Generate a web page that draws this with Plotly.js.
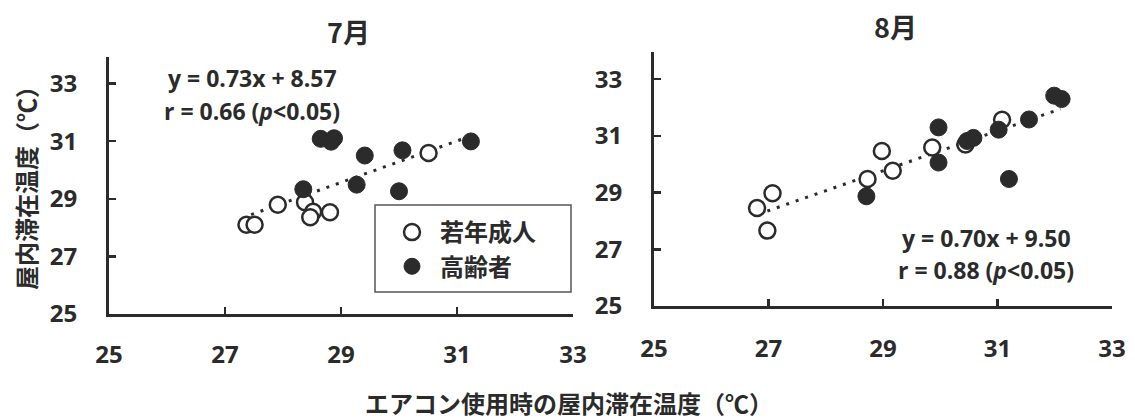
<!DOCTYPE html>
<html>
<head>
<meta charset="utf-8">
<script src="https://cdn.plot.ly/plotly-3.0.1.min.js"></script>
<style>html,body{margin:0;padding:0;background:#fff;}#chart{width:1135px;height:420px;}</style>
</head>
<body>
<div id="chart"></div>
<script>
// ---- data ----
var panelTitles = ["7月", "8月"];
var seriesNames = ["若年成人", "高齢者"];
var xTitle = "エアコン使用時の屋内滞在温度（℃）";
var yTitle = "屋内滞在温度（℃）";
var tickVals = [25, 27, 29, 31, 33];

var julYoungX = [27.37, 27.51, 27.91, 28.38, 28.52, 28.47, 28.81, 30.51];
var julYoungY = [28.10, 28.10, 28.79, 28.88, 28.55, 28.36, 28.53, 30.59];
var julOldX = [28.35, 28.65, 28.88, 28.83, 29.41, 29.27, 30.06, 30.00, 31.24];
var julOldY = [29.33, 31.08, 31.10, 30.98, 30.50, 29.49, 30.68, 29.26, 30.99];
var julTrendX = [27.45, 31.20];
var julTrendY = [28.45, 31.15];
var julEq = ["y = 0.73x + 8.57", "r = 0.66 (<i>p</i>&lt;0.05)"];

var augYoungX = [26.80, 27.07, 26.98, 28.73, 28.98, 29.17, 29.86, 30.44, 31.08];
var augYoungY = [28.46, 28.98, 27.66, 29.48, 30.47, 29.77, 30.59, 30.70, 31.57];
var augOldX = [28.71, 29.97, 29.97, 30.47, 30.58, 31.02, 31.20, 31.55, 31.99, 32.12];
var augOldY = [28.87, 31.30, 30.06, 30.82, 30.93, 31.22, 29.48, 31.58, 32.42, 32.30];
var augTrendX = [26.98, 32.10];
var augTrendY = [28.35, 31.95];
var augEq = ["y = 0.70x + 9.50", "r = 0.88 (<i>p</i>&lt;0.05)"];

// ---- styles ----
var W = 1135, H = 420;
var ink = "#2b2b2b";
var numFont = {family: "Open Sans, Liberation Sans, sans-serif", size: 24, color: ink, weight: 700};
var legFont = {family: "Noto Sans CJK JP, sans-serif", size: 24, color: ink, weight: 700};
var axTitleFont = {family: "Noto Sans CJK JP, sans-serif", size: 24, color: ink, weight: 700};
var eqFont = {family: numFont.family, size: 23, color: ink, weight: 700};
function px(x){ return x / W; }
function py(y){ return 1 - y / H; }

var openMarker = {symbol: "circle", size: 16, color: "#ffffff", line: {color: ink, width: 2.5}};
var fillMarker = {symbol: "circle", size: 17, color: ink, line: {color: ink, width: 1}};
var trendLine = {color: ink, width: 3, dash: "3px,7px"};

var traces = [
  {x: julTrendX, y: julTrendY, mode: "lines", line: trendLine, showlegend: false, xaxis: "x", yaxis: "y", hoverinfo: "skip"},
  {x: augTrendX, y: augTrendY, mode: "lines", line: trendLine, showlegend: false, xaxis: "x2", yaxis: "y2", hoverinfo: "skip"},
  {x: julYoungX, y: julYoungY, mode: "markers", name: seriesNames[0], marker: openMarker, xaxis: "x", yaxis: "y"},
  {x: julOldX, y: julOldY, mode: "markers", name: seriesNames[1], marker: fillMarker, xaxis: "x", yaxis: "y"},
  {x: augYoungX, y: augYoungY, mode: "markers", name: seriesNames[0], marker: openMarker, showlegend: false, xaxis: "x2", yaxis: "y2"},
  {x: augOldX, y: augOldY, mode: "markers", name: seriesNames[1], marker: fillMarker, showlegend: false, xaxis: "x2", yaxis: "y2"}
];

function axisBase(extra){
  var a = {
    showgrid: false, zeroline: false, showline: true, linecolor: ink, linewidth: 3,
    ticks: "inside", ticklen: 7, tickwidth: 2.5, tickcolor: ink,
    tickvals: tickVals, ticktext: tickVals.map(String),
    tickfont: numFont, ticklabelstandoff: 24, fixedrange: true
  };
  for (var k in extra) a[k] = extra[k];
  return a;
}

var layout = {
  width: W, height: H,
  margin: {l: 0, r: 0, t: 0, b: 0},
  paper_bgcolor: "#ffffff", plot_bgcolor: "rgba(0,0,0,0)",
  xaxis: axisBase({domain: [px(109), px(573)], range: [25, 33], anchor: "y", ticklabelstandoff: 17}),
  yaxis: axisBase({domain: [py(314), py(57)], range: [25, 33.92], anchor: "x"}),
  xaxis2: axisBase({domain: [px(654), px(1112)], range: [25, 33], anchor: "y2", ticklabelstandoff: 19}),
  yaxis2: axisBase({domain: [py(306), py(52)], range: [25, 33.96], anchor: "x2"}),
  showlegend: true,
  legend: {
    x: px(376), y: py(210), xanchor: "left", yanchor: "top",
    bgcolor: "rgba(0,0,0,0)", borderwidth: 0,
    font: legFont, itemwidth: 46, indentation: 8, tracegroupgap: 0
  },
  shapes: [
    {type: "rect", xref: "paper", yref: "paper", x0: px(375), x1: px(571), y0: py(292), y1: py(205),
     line: {color: "#555", width: 1.5}, fillcolor: "rgba(0,0,0,0)"}
  ],
  annotations: [
    {text: panelTitles[0], x: px(348), y: py(32), xref: "paper", yref: "paper", showarrow: false, xanchor: "center", yanchor: "middle",
     font: {family: legFont.family, size: 27, color: ink, weight: 700}},
    {text: panelTitles[1], x: px(895), y: py(27), xref: "paper", yref: "paper", showarrow: false, xanchor: "center", yanchor: "middle",
     font: {family: legFont.family, size: 27, color: ink, weight: 700}},
    {text: yTitle, x: px(25), y: py(182), xref: "paper", yref: "paper", showarrow: false, textangle: -90, xanchor: "center", yanchor: "middle",
     font: axTitleFont},
    {text: xTitle, x: px(569), y: py(402), xref: "paper", yref: "paper", showarrow: false, xanchor: "center", yanchor: "middle",
     font: axTitleFont},
    {text: julEq[0], x: px(252), y: py(78), xref: "paper", yref: "paper", showarrow: false, xanchor: "center", yanchor: "middle", font: eqFont},
    {text: julEq[1], x: px(252), y: py(111), xref: "paper", yref: "paper", showarrow: false, xanchor: "center", yanchor: "middle", font: eqFont},
    {text: augEq[0], x: px(986), y: py(238), xref: "paper", yref: "paper", showarrow: false, xanchor: "center", yanchor: "middle", font: eqFont},
    {text: augEq[1], x: px(986), y: py(270), xref: "paper", yref: "paper", showarrow: false, xanchor: "center", yanchor: "middle", font: eqFont}
  ]
};

Plotly.newPlot("chart", traces, layout, {displayModeBar: false, staticPlot: true});
</script>
</body>
</html>
